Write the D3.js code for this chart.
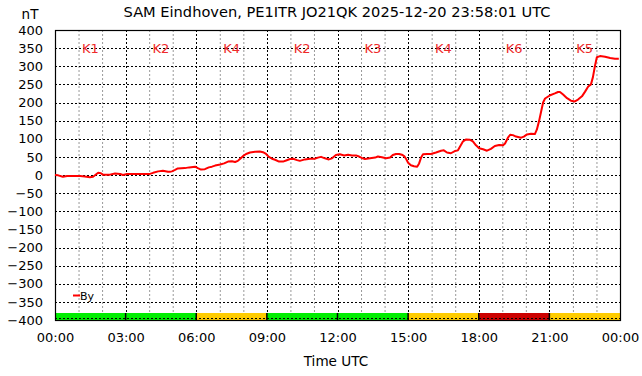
<!DOCTYPE html>
<html>
<head>
<meta charset="utf-8">
<script src="https://cdn.jsdelivr.net/npm/d3@7"></script>
<style>
  body { margin: 0; background: #fff; }
  svg { font-family: "DejaVu Sans", sans-serif; }
</style>
</head>
<body>
<div id="chart"></div>
<script>
// minutes since 00:00 UTC
const times = [0, 8, 20, 31, 64, 76, 89, 97, 110, 117, 122, 140, 153, 166, 173, 184, 217, 242, 250, 263, 275, 288,
  293, 298, 306, 313, 331, 342, 357, 364, 372, 382, 392, 400, 408, 421, 431, 441, 451, 459, 466, 472, 479, 487, 497, 510, 522, 530, 538, 545, 553, 561, 571, 581,
  589, 599, 607, 617, 624, 637, 650, 663, 670, 678, 688, 698, 706, 716, 726, 737, 747, 757, 767, 775, 782, 790, 803, 816, 823, 833, 844, 854, 861, 869, 877,
  884, 890, 895, 900, 907, 915, 923, 928, 933, 938, 948, 958, 971, 984, 991, 999, 1009, 1019, 1027, 1032, 1040, 1048, 1058, 1065, 1073, 1081, 1091, 1101, 1111, 1121, 1132, 1142, 1147, 1155,
  1160, 1167, 1175, 1188, 1195, 1203, 1213, 1223, 1228, 1234, 1239, 1244, 1249, 1262, 1274, 1282, 1287, 1295, 1305, 1315, 1325, 1333, 1343, 1351, 1359, 1366, 1371, 1376, 1381, 1389, 1402, 1415, 1427, 1437];
const byValues = [0, -1, -5, -3, -3, -4, -6, -5, 6, 5, 1, 1, 4, 3, 0, 3, 3, 3, 6, 10, 12, 9,
  9, 10, 14, 18, 19, 21, 23, 19, 15, 16, 21, 23, 26, 29, 32, 37, 38, 36, 39, 45, 52, 58, 62, 64, 65, 63, 58, 50, 45, 42, 37, 37,
  40, 44, 45, 41, 39, 43, 45, 45, 48, 50, 46, 43, 46, 55, 57, 54, 56, 54, 54, 51, 47, 44, 46, 48, 51, 49, 46, 48, 55, 58, 58,
  56, 52, 44, 34, 27, 24, 23, 32, 48, 57, 58, 58, 62, 67, 68, 62, 60, 66, 68, 78, 93, 98, 97, 93, 82, 74, 71, 67, 72, 80, 83, 82, 87, 104,
  111, 110, 106, 103, 106, 112, 114, 113, 125, 150, 175, 200, 211, 220, 225, 229, 229, 222, 212, 205, 203, 208, 217, 230, 244, 250, 270, 300, 325, 328, 326, 323, 321, 321];

// K index per 3-hour block
const kIndex = [1, 2, 4, 2, 3, 4, 6, 5];
const yTicks = d3.range(-400, 401, 50);
const xTicks = d3.range(0, 1441, 180);

const width = 642, height = 376;
const margin = {top: 30, right: 22, bottom: 56, left: 55};
const innerW = width - margin.left - margin.right;
const innerH = height - margin.top - margin.bottom;

const svg = d3.select('#chart').append('svg')
  .attr('width', width)
  .attr('height', height);

const x = d3.scaleLinear().domain([0, 1440]).range([0, innerW]);
const y = d3.scaleLinear().domain([-400, 400]).range([innerH, 0]);

const g = svg.append('g')
  .attr('transform', `translate(${margin.left},${margin.top})`);

// minor hourly grid
g.selectAll('.minor')
  .data(d3.range(60, 1440, 60).filter(m => m % 180 !== 0))
  .enter().append('line')
  .attr('x1', d => x(d) + 0.5).attr('x2', d => x(d) + 0.5)
  .attr('y1', 0).attr('y2', innerH)
  .style('stroke', '#999')
  .style('stroke-dasharray', '2,2');

// major grid
g.selectAll('.hgrid')
  .data(yTicks.slice(1, -1))
  .enter().append('line')
  .attr('x1', 0).attr('x2', innerW)
  .attr('y1', d => Math.round(y(d)) + 0.5).attr('y2', d => Math.round(y(d)) + 0.5)
  .style('stroke', '#000')
  .style('stroke-dasharray', '2,2');

g.selectAll('.vgrid')
  .data(xTicks.slice(1, -1))
  .enter().append('line')
  .attr('x1', d => Math.round(x(d)) + 0.5).attr('x2', d => Math.round(x(d)) + 0.5)
  .attr('y1', 0).attr('y2', innerH)
  .style('stroke', '#000')
  .style('stroke-dasharray', '2,2');

// K index band
const kColor = k => k >= 6 ? '#cc0000' : (k >= 4 ? '#ffcc00' : '#00ee00');
const bandH = 7;
g.selectAll('.kband')
  .data(kIndex)
  .enter().append('rect')
  .attr('x', (d, i) => x(i * 180))
  .attr('y', innerH - bandH)
  .attr('width', x(180) - x(0))
  .attr('height', bandH)
  .style('fill', d => kColor(d));

g.selectAll('.ksep')
  .data(xTicks.slice(1, -1))
  .enter().append('line')
  .attr('x1', d => x(d)).attr('x2', d => x(d))
  .attr('y1', innerH - bandH).attr('y2', innerH)
  .style('stroke', '#000')
  .style('stroke-width', 1.5);

g.append('line')
  .attr('x1', 0).attr('x2', innerW)
  .attr('y1', innerH - 1.5).attr('y2', innerH - 1.5)
  .style('stroke', '#000')
  .style('stroke-dasharray', '2,2');

// K labels
g.selectAll('.klabel')
  .data(kIndex)
  .enter().append('text')
  .attr('x', (d, i) => x(i * 180 + 90))
  .attr('y', y(350))
  .attr('dy', '0.35em')
  .attr('text-anchor', 'middle')
  .style('font-size', '13px')
  .style('fill', '#ee2a2a')
  .text(d => 'K' + d);

// frame
g.append('rect')
  .attr('x', 0.5).attr('y', 0.5)
  .attr('width', innerW).attr('height', innerH)
  .style('fill', 'none')
  .style('stroke', '#000')
  .style('stroke-width', 1.2);

// By line
const line = d3.line()
  .x((d, i) => x(times[i]))
  .y(d => y(d));

g.append('path')
  .datum(byValues)
  .attr('d', line)
  .style('fill', 'none')
  .style('stroke', '#ff0000')
  .style('stroke-width', 2)
  .style('stroke-linejoin', 'round');

// axes
const fmt = m => d3.format('02d')(Math.floor(m / 60) % 24) + ':' + d3.format('02d')(m % 60);

const yAxis = g.append('g')
  .call(d3.axisLeft(y).tickValues(yTicks).tickSize(0).tickPadding(12));
const xAxis = g.append('g')
  .attr('transform', `translate(0,${innerH})`)
  .call(d3.axisBottom(x).tickValues(xTicks).tickFormat(fmt).tickSize(0).tickPadding(13));

[yAxis, xAxis].forEach(a => {
  a.select('.domain').remove();
  a.selectAll('text')
    .style('font-family', '"DejaVu Sans", sans-serif')
    .style('font-size', '13px')
    .style('fill', '#000');
});

// legend
g.append('line')
  .attr('x1', 18).attr('x2', 25)
  .attr('y1', 265.5).attr('y2', 265.5)
  .style('stroke', '#ff0000')
  .style('stroke-width', 2);
g.append('text')
  .attr('x', 25).attr('y', 270)
  .style('font-size', '11px')
  .text('By');

// titles
svg.append('text')
  .attr('x', 337).attr('y', 17)
  .attr('text-anchor', 'middle')
  .style('font-size', '14.6px')
  .text('SAM Eindhoven, PE1ITR JO21QK 2025-12-20 23:58:01 UTC');

svg.append('text')
  .attr('x', 30).attr('y', 19)
  .attr('text-anchor', 'middle')
  .style('font-size', '13.5px')
  .text('nT');

svg.append('text')
  .attr('x', 336).attr('y', 366)
  .attr('text-anchor', 'middle')
  .style('font-size', '13.6px')
  .text('Time UTC');
</script>
</body>
</html>
